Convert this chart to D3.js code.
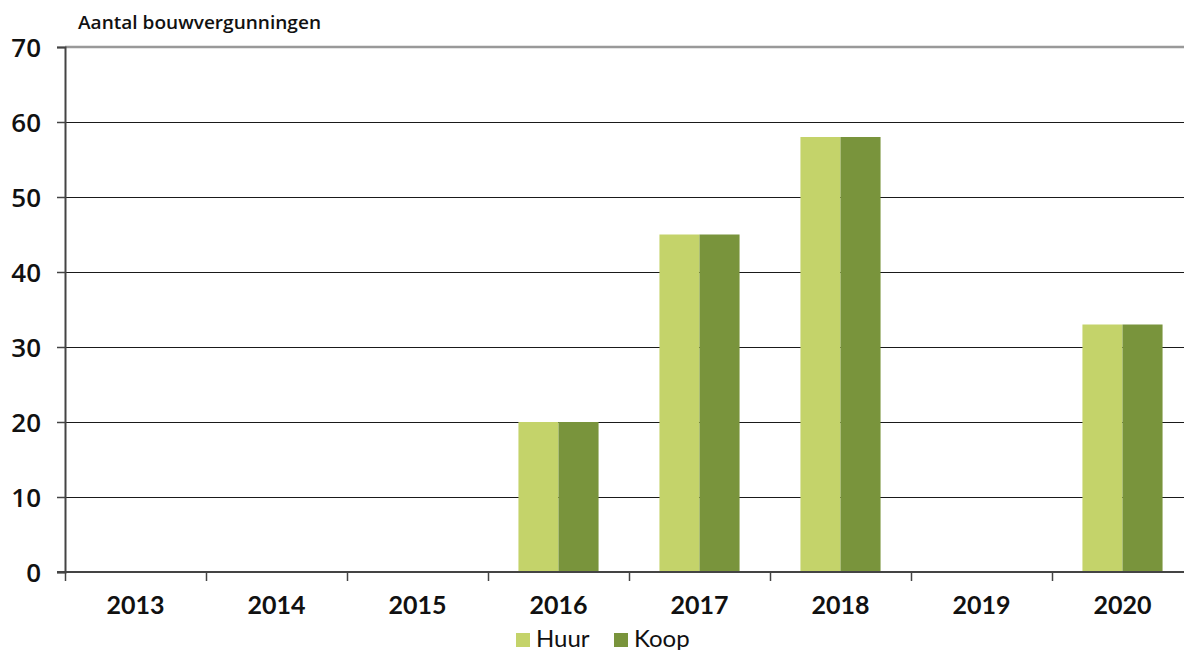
<!DOCTYPE html>
<html><head><meta charset="utf-8">
<script src="https://cdn.jsdelivr.net/npm/d3@7"></script>
<style>
html,body{margin:0;padding:0;background:#fff;}
svg{display:block;font-family:Lato, "Open Sans", sans-serif;}
</style></head>
<body>
<svg id="chart" width="1184" height="650"></svg>
<script>
const years = ["2013","2014","2015","2016","2017","2018","2019","2020"];
const huur = [0,0,0,20,45,58,0,33];
const koop = [0,0,0,20,45,58,0,33];
const yTicks = [0,10,20,30,40,50,60,70];
const seriesNames = ["Huur","Koop"];
const colors = ["#c4d36a","#79943c"];
const title = "Aantal bouwvergunningen";

(function(){
const svg = d3.select("#chart");
const mLeft = 65, mRight = 1193, mTop = 47, mBottom = 572;

const x = d3.scaleBand().domain(years).range([mLeft, mRight]).paddingInner(0).paddingOuter(0);
const y = d3.scaleLinear().domain([0,70]).range([mBottom, mTop]);
const xs = d3.scaleBand().domain(seriesNames).range([0, x.bandwidth()]).paddingInner(0).paddingOuter(0.76);

// gridlines
svg.append("g").selectAll("line").data(yTicks.filter(d=>d>0 && d<70)).join("line")
  .attr("x1", mLeft).attr("x2", 1184).attr("y1", d=>y(d)+0.5).attr("y2", d=>y(d)+0.5)
  .attr("stroke", "#1a1a1a").attr("stroke-width", 1).attr("shape-rendering", "crispEdges");
svg.append("line").attr("x1", mLeft).attr("x2", 1184).attr("y1", y(70)).attr("y2", y(70))
  .attr("stroke", "#999").attr("stroke-width", 2.5);

// bars
const data = years.map((yr,i)=>({year:yr, vals:[huur[i], koop[i]]}));
const groups = svg.append("g").selectAll("g").data(data).join("g")
  .attr("transform", d=>`translate(${x(d.year)},0)`);
groups.selectAll("rect").data(d=>d.vals.map((v,j)=>({name:seriesNames[j], v, j}))).join("rect")
  .attr("x", d=>xs(d.name)).attr("width", xs.bandwidth())
  .attr("y", d=>y(d.v)).attr("height", d=>y(0)-y(d.v))
  .attr("fill", d=>colors[d.j]);

// y axis
const yAxis = d3.axisLeft(y).tickValues(yTicks).tickSize(8).tickPadding(16);
const gy = svg.append("g").attr("transform", `translate(${mLeft},0)`).call(yAxis);
gy.select(".domain").attr("stroke", "#444").attr("stroke-width", 2);
gy.selectAll(".tick line").attr("stroke", "#444").attr("stroke-width", 1.5);
gy.selectAll(".tick text").attr("fill", "#111").style("font-size", "26px").style("font-weight", "600")
  .style("font-family", "'Open Sans', sans-serif").attr("dy", "0.36em");

// x axis
const xAxis = d3.axisBottom(x).tickSize(0).tickPadding(24);
const gx = svg.append("g").attr("transform", `translate(0,${mBottom})`).call(xAxis);
gx.select(".domain").attr("stroke", "none");
svg.append("line").attr("x1", mLeft-8).attr("x2", 1184).attr("y1", mBottom).attr("y2", mBottom)
  .attr("stroke", "#444").attr("stroke-width", 2);
gx.selectAll(".tick text").attr("fill", "#111").style("font-size", "25px").style("font-weight", "700")
  .style("font-family", "Lato, sans-serif");
// category boundary ticks
svg.append("g").selectAll("line").data(years).join("line")
  .attr("x1", d=>x(d)+0.5).attr("x2", d=>x(d)+0.5).attr("y1", mBottom).attr("y2", mBottom+9)
  .attr("stroke", "#444").attr("stroke-width", 1.5);

// title
svg.append("text").attr("x", 78).attr("y", 29).text(title)
  .attr("textLength", 243).attr("lengthAdjust", "spacingAndGlyphs")
  .style("font-size", "18.5px").style("font-weight", "600").attr("fill", "#111")
  .style("font-family", "'Open Sans', sans-serif");

// legend
const legendX = [516, 614];
const lg = svg.append("g").selectAll("g").data(seriesNames).join("g")
  .attr("transform", (d,i)=>`translate(${legendX[i]},633)`);
lg.append("rect").attr("width", 14).attr("height", 14).attr("fill", (d,i)=>colors[i]);
lg.append("text").attr("x", 20).attr("y", 14).text(d=>d)
  .style("font-size", "24px").attr("fill", "#111").style("font-family", "Lato, sans-serif");
})();
</script>
</body></html>
